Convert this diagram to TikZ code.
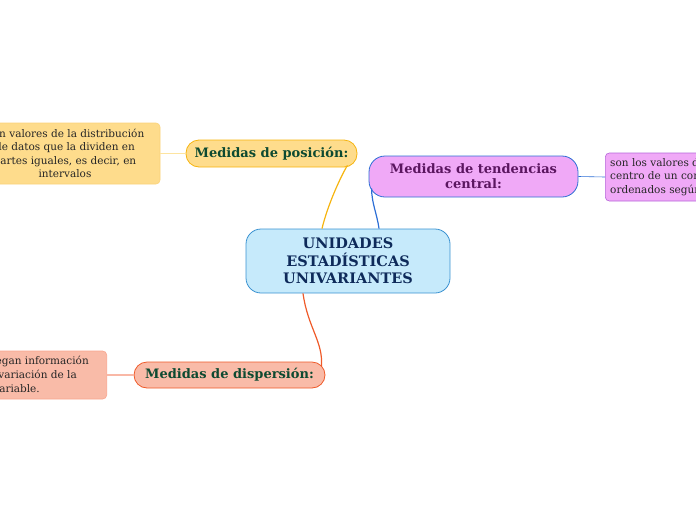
\documentclass[tikz,border=0pt]{standalone}
\usepackage{fontspec}
\setmainfont{DejaVu Serif}
\definecolor{cfill}{HTML}{C6EAFB}
\definecolor{cdraw}{HTML}{3A92D1}
\definecolor{ctext}{HTML}{0E2A5A}
\definecolor{pfill}{HTML}{FEDC8C}
\definecolor{pdraw}{HTML}{F6B40F}
\definecolor{gtext}{HTML}{0D4A31}
\definecolor{ptdraw}{HTML}{FBD27A}
\definecolor{tfill}{HTML}{F0A9F7}
\definecolor{tdraw}{HTML}{2C6ED5}
\definecolor{ttext}{HTML}{5B1660}
\definecolor{ttdraw}{HTML}{B565D9}
\definecolor{dfill}{HTML}{F9BBA8}
\definecolor{ddraw}{HTML}{EF5A29}
\definecolor{dtdraw}{HTML}{F8A58E}
\definecolor{plink}{HTML}{FDE4A0}
\definecolor{dlink}{HTML}{F9B8A6}
\tikzset{
  topic/.style={rounded corners=13pt, line width=0.8pt, inner sep=0pt, font=\bfseries\fontsize{13}{15}\selectfont, align=center},
  note/.style={rounded corners=4pt, line width=0.6pt, inner sep=0pt, font=\fontsize{10.5}{13.5}\selectfont, align=center, text=black!85},
  notetext/.style={font=\fontsize{10.5}{13.5}\selectfont, text=black!85, inner sep=0pt},
}
\begin{document}
\begin{tikzpicture}[x=1pt,y=-1pt]
\useasboundingbox (0,0) rectangle (696,520);
\clip (0,0) rectangle (696,520);
% nodes
\node[draw=cdraw, fill=cfill, rounded corners=15pt, line width=0.8pt, minimum width=204pt, minimum height=64pt, inner sep=0pt,
      font=\bfseries\fontsize{14.5}{17.5}\selectfont, text=ctext, align=center] (c) at (348,261) {UNIDADES\\ESTADÍSTICAS\\UNIVARIANTES};
\node[topic, draw=pdraw, fill=pfill, text=gtext, minimum width=171pt, minimum height=27pt] (p) at (271.5,153.5) {Medidas de posición:};
\node[note, draw=ptdraw, fill=pfill, minimum width=190pt, minimum height=61pt] (pt) at (65,153.5) {Son valores de la distribución\\de datos que la dividen en\\partes iguales, es decir, en\\intervalos};
\node[topic, draw=tdraw, fill=tfill, text=ttext, minimum width=209pt, minimum height=41pt, rounded corners=16pt] (t) at (473.5,176.5) {Medidas de tendencias\\central:};
\node[note, draw=ttdraw, fill=tfill, minimum width=200pt, minimum height=48pt, anchor=west] (tt) at (605,177) {};
\node[notetext, align=left, anchor=west] (ttx) at (610,177) {son los valores de los datos que\\centro de un conjunto de datos\\ordenados según su magnitud.};
\node[topic, draw=ddraw, fill=dfill, text=gtext, minimum width=191pt, minimum height=26pt] (d) at (229.5,375) {Medidas de dispersión:};
\node[note, draw=dtdraw, fill=dfill, minimum width=170pt, minimum height=48pt, anchor=east] (dt) at (107,375) {};
\node[notetext, anchor=base east] (dl1) at (89,364) {Entregan información};
\node[notetext, anchor=base east] (dl2) at (77,378) {sobre la variación de la};
\node[notetext, anchor=base east] (dl3) at (40,392) {variable.};
% anchor points for links
\coordinate (c1) at ([xshift=-26pt]c.north);
\coordinate (c2) at ([xshift=31pt]c.north);
\coordinate (c3) at ([xshift=-45pt]c.south);
\coordinate (p1) at ([xshift=-10pt,yshift=2pt]p.south east);
\coordinate (t1) at ([xshift=3pt,yshift=9pt]t.south west);
\coordinate (d1) at ([xshift=-4pt,yshift=-5pt]d.north east);
% links
\draw[pdraw, line width=1.2pt] (c1) .. controls +(6,-25) and +(-6,10) .. (p1);
\draw[tdraw, line width=1.2pt] (c2) .. controls +(-2,-15) and +(0,15) .. (t1);
\draw[ddraw, line width=1.2pt] (c3) .. controls +(5,35) and +(2,-25) .. (d1);
\draw[plink, line width=1.2pt] (p.west) -- (pt.east);
\draw[tdraw, line width=0.6pt] (t.east) -- (tt.west);
\draw[dlink, line width=1.2pt] (d.west) -- (dt.east);
\end{tikzpicture}
\end{document}
